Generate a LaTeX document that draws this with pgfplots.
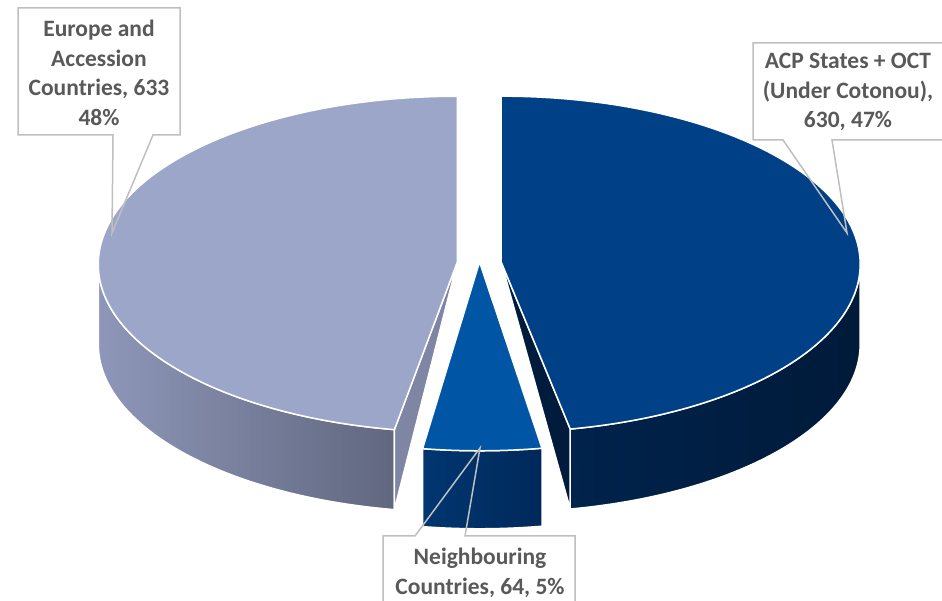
\documentclass[border=0pt]{standalone}
\usepackage{fontspec}
\setmainfont{Carlito}
\usepackage{pgfplots}
\usepackage{pgfplotstable}
\pgfplotsset{compat=1.18}
\definecolor{eutop}{HTML}{9CA6C9}
\definecolor{euside1}{HTML}{8E97B9}
\definecolor{euside2}{HTML}{61677F}
\definecolor{euinner}{HTML}{7E86A4}
\definecolor{acptop}{HTML}{004087}
\definecolor{acpside1}{HTML}{00234C}
\definecolor{acpside2}{HTML}{001A39}
\definecolor{acpinner}{HTML}{001B3B}
\definecolor{ntop}{HTML}{0055A5}
\definecolor{nside1}{HTML}{003671}
\definecolor{nside2}{HTML}{00295A}
\definecolor{lblborder}{HTML}{BFBFBF}
\definecolor{lbltext}{HTML}{595959}

\pgfplotstableread{
slice value explode
ACP 630 22
Neighbouring 64 38
Europe 633 22
}\piedata

\begin{document}
\begin{tikzpicture}
\pgfplotstablegetelem{0}{value}\of\piedata \let\vA\pgfplotsretval
\pgfplotstablegetelem{1}{value}\of\piedata \let\vB\pgfplotsretval
\pgfplotstablegetelem{2}{value}\of\piedata \let\vC\pgfplotsretval
\pgfplotstablegetelem{0}{explode}\of\piedata \let\eA\pgfplotsretval
\pgfplotstablegetelem{1}{explode}\of\piedata \let\eB\pgfplotsretval
\pgfplotstablegetelem{2}{explode}\of\piedata \let\eC\pgfplotsretval
\def\pRx{359}\def\pRy{168}\def\BX{479.25}\def\BY{336}\def\AY{339}
\def\dep{80}
\pgfmathsetmacro\tot{\vA+\vB+\vC}
\pgfmathsetmacro\aA{360*(\vA/\tot)}
\pgfmathsetmacro\aB{360*((\vA+\vB)/\tot)}
\pgfmathsetmacro\bA{\aA/2}
\pgfmathsetmacro\bB{(\aA+\aB)/2}
\pgfmathsetmacro\bC{(\aB+360)/2}
\pgfmathsetmacro\cAx{\BX+\eA*sin(\bA)}
\pgfmathsetmacro\cAy{\BY+\eA*(\pRy/\pRx)*cos(\bA)}
\pgfmathsetmacro\cBx{\BX+\eB*sin(\bB)}
\pgfmathsetmacro\cBy{\BY+\eB*(\pRy/\pRx)*cos(\bB)}
\pgfmathsetmacro\cCx{\BX+\eC*sin(\bC)}
\pgfmathsetmacro\cCy{\BY+\eC*(\pRy/\pRx)*cos(\bC)}
\pgfmathsetmacro\thA{90-(\aA+6.4*sin(2*\aA))}
\pgfmathsetmacro\thE{90-(\aB+6.4*sin(2*\aB))}
\pgfmathsetmacro\thNa{90-(\aA+3*sin(2*\aA))}
\pgfmathsetmacro\thNb{90-(\aB+3*sin(2*\aB))}
\pgfmathsetmacro\rAx{\cAx+\pRx*cos(\thA)}
\pgfmathsetmacro\rAy{\cAy+\pRy*sin(\thA)}
\pgfmathsetmacro\rEx{\cCx+\pRx*cos(\thE)}
\pgfmathsetmacro\rEy{\cCy+\pRy*sin(\thE)}
\pgfmathsetmacro\rNx{\cBx+\pRx*cos(\thNa)}
\pgfmathsetmacro\rNy{\cBy+\pRy*sin(\thNa)}
\pgfmathsetmacro\topA{\cAy+\pRy}
\pgfmathsetmacro\rtAx{\cAx+\pRx}
\useasboundingbox (0,0) rectangle (942pt,601pt);
\clip (0,0) rectangle (942pt,601pt);
\begin{axis}[x=1pt,y=1pt,xmin=0,xmax=942,ymin=0,ymax=601,
  scale only axis,hide axis,clip=false,at={(0,0)},anchor=south west]
% Europe
\path[left color=euside1,right color=euside2,draw=white,line width=1.5pt]
  (axis cs:\rEx,\rEy) arc[start angle=\thE,end angle=-180,x radius=\pRx pt,y radius=\pRy pt]
  -- ++(0pt,-\dep pt) arc[start angle=-180,end angle=\thE,x radius=\pRx pt,y radius=\pRy pt] -- cycle;
\path[fill=euinner,draw=white,line width=1.5pt]
  (axis cs:\cCx,\AY) -- (axis cs:\rEx,\rEy) -- ++(0pt,-\dep pt) -- cycle;
\path[fill=eutop,draw=white,line width=1.5pt]
  (axis cs:\cCx,\AY) -- (axis cs:\rEx,\rEy) arc[start angle=\thE,end angle=-270,x radius=\pRx pt,y radius=\pRy pt] -- cycle;
% ACP
\path[left color=acpside1,right color=acpside2,draw=white,line width=1.5pt]
  (axis cs:\rtAx,\cAy) arc[start angle=0,end angle=\thA,x radius=\pRx pt,y radius=\pRy pt]
  -- ++(0pt,-\dep pt) arc[start angle=\thA,end angle=0,x radius=\pRx pt,y radius=\pRy pt] -- cycle;
\path[fill=acpinner,draw=white,line width=1.5pt]
  (axis cs:\cAx,\AY) -- (axis cs:\rAx,\rAy) -- ++(0pt,-\dep pt) -- cycle;
\path[fill=acptop,draw=white,line width=1.5pt]
  (axis cs:\cAx,\AY) -- (axis cs:\cAx,\topA) arc[start angle=90,end angle=\thA,x radius=\pRx pt,y radius=\pRy pt] -- cycle;
% Neighbouring
\path[left color=nside1,right color=nside2,draw=white,line width=1.5pt]
  (axis cs:\rNx,\rNy) arc[start angle=\thNa,end angle=\thNb,x radius=\pRx pt,y radius=\pRy pt]
  -- ++(0pt,-78pt) arc[start angle=\thNb,end angle=\thNa,x radius=\pRx pt,y radius=\pRy pt] -- cycle;
\path[fill=ntop,draw=white,line width=1.5pt]
  (axis cs:\cBx,\AY) -- (axis cs:\rNx,\rNy) arc[start angle=\thNa,end angle=\thNb,x radius=\pRx pt,y radius=\pRy pt] -- cycle;
% labels
\fill[white] (axis cs:18,593) rectangle (axis cs:180,466);
\draw[lblborder,line width=1.5pt,line join=miter]
  (axis cs:18,593) -- (axis cs:180,593) -- (axis cs:180,466) -- (axis cs:153,466)
  -- (axis cs:112,368) -- (axis cs:113,466) -- (axis cs:18,466) -- cycle;
\node[font=\fontsize{23.5}{29.5}\selectfont\bfseries,text=lbltext,align=center]
  at (axis cs:99,528) {Europe and\\Accession\\Countries, 633\\48\%};
\fill[white] (axis cs:753,558) rectangle (axis cs:950,461);
\draw[lblborder,line width=1.5pt,line join=miter]
  (axis cs:950,558) -- (axis cs:753,558) -- (axis cs:753,461) -- (axis cs:783,461)
  -- (axis cs:847,368) -- (axis cs:832,461) -- (axis cs:950,461);
\node[font=\fontsize{23.5}{29.5}\selectfont\bfseries,text=lbltext,align=center]
  at (axis cs:848,509) {ACP States + OCT\\(Under Cotonou),\\630, 47\%};
\fill[white] (axis cs:383,65) rectangle (axis cs:575,-10);
\draw[lblborder,line width=1.5pt,line join=miter]
  (axis cs:383,-10) -- (axis cs:383,65) -- (axis cs:415,65) -- (axis cs:480,153)
  -- (axis cs:465,65) -- (axis cs:575,65) -- (axis cs:575,-10);
\node[font=\fontsize{23.5}{29.5}\selectfont\bfseries,text=lbltext,align=center]
  at (axis cs:480,28) {Neighbouring\\Countries, 64, 5\%};
\end{axis}
\end{tikzpicture}
\end{document}
